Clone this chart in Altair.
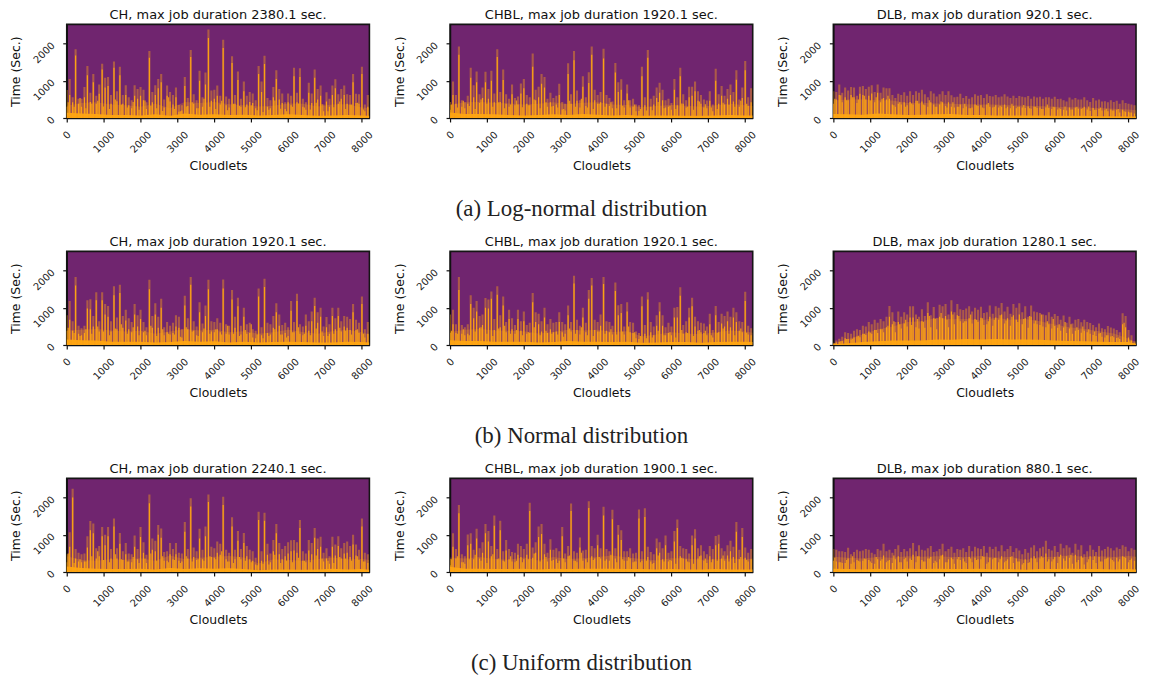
import altair as alt
import pandas as pd

# Spike envelope / bright core per 80 cloudlets, in-between streaks per 160, low band / base per 400 (seconds)
CH_LN_TOP = [750,1050,560,1850,520,520,830,1400,680,1180,
 600,900,1460,1080,1100,620,1520,720,1380,620,
 880,560,480,880,780,830,760,420,1800,700,
 880,1050,1180,500,870,700,620,820,350,340,
 1100,540,1830,640,480,1270,560,1220,2380,740,
 760,870,600,2100,580,520,1660,620,1250,520,
 980,600,700,660,480,1400,980,1670,540,480,
 830,1280,780,660,420,660,600,1350,680,1340,
 520,420,950,660,1300,780,870,360,690,520,
 870,1040,640,780,870,640,620,1180,650,640,
 1380,360,620]
CH_LN_CORE = [300,620,420,1680,380,300,560,1150,430,960,
 380,650,1300,820,860,380,1350,450,1150,380,
 620,340,260,600,520,600,480,240,1620,420,
 620,800,960,280,600,440,360,560,170,200,
 860,320,1640,380,260,1000,300,900,2150,460,
 520,600,360,1880,340,280,1480,380,1020,300,
 720,360,430,400,260,1180,700,1450,300,260,
 560,1050,500,400,240,420,340,1120,420,1100,
 300,220,680,400,1080,500,600,180,440,300,
 620,800,380,520,620,380,360,960,400,380,
 1180,180,300]
CH_LN_FILL = [420,300,540,260,380,460,310,240,500,360,280,430,220,470,330,260,190,560,240,180,
 310,420,260,520,300,240,460,210,380,320,290,340,210,160,220,470,250,180,300,390,
 280,230,410,370,180,290,440,240,360,410,230]
CH_LN_BAND = [330,400,420,360,340,300,380,260,430,400,430,370,340,310,330,390,380,310,360,370,280,270]
CH_LN_BASE = [140,120,110,80,80,70,100,60,120,90,100,80,90,70,80,100,80,60,70,80,70,60]

CHBL_LN_TOP = [430,980,620,1920,480,420,600,1350,880,1250,
 640,820,1240,780,1270,660,1850,700,1300,640,
 520,900,540,580,930,1050,620,560,1730,760,
 840,1180,1100,520,680,540,600,920,430,380,
 1470,640,1800,740,480,1120,560,1230,1920,760,
 620,700,1860,620,540,440,1480,960,1040,480,
 900,480,520,360,340,1380,560,1830,520,600,
 820,950,760,480,520,400,1050,560,1350,640,
 480,840,840,980,720,620,500,470,720,360,
 1320,640,860,600,780,900,700,1280,500,820,
 1530,560,800]
CHBL_LN_CORE = [220,620,380,1700,300,260,380,1080,560,960,
 400,540,960,520,1000,420,1640,430,1020,380,
 300,640,340,360,660,800,380,340,1380,480,
 560,920,820,300,420,320,360,620,230,200,
 1180,380,1550,460,280,840,320,940,1700,480,
 380,420,1600,380,320,260,1220,700,760,280,
 660,280,300,180,190,1120,340,1620,300,360,
 540,680,480,280,300,220,760,340,1120,380,
 280,560,600,720,460,380,280,260,460,180,
 1000,380,600,360,520,620,440,1030,300,540,
 1280,320,420]
CHBL_LN_FILL = [360,280,460,320,240,500,380,300,420,260,360,470,290,340,500,260,420,310,280,240,
 460,300,520,280,240,380,300,420,260,330,480,360,240,200,210,430,260,330,240,390,
 300,220,440,370,280,240,410,350,300,460,380]
CHBL_LN_BAND = [350,420,430,410,390,360,380,420,370,410,420,360,350,290,320,350,330,300,340,380,340,320]
CHBL_LN_BASE = [150,110,110,100,80,70,80,100,80,110,90,70,80,60,70,70,60,60,70,80,70,70]

DLB_LN_TOP = [720,700,900,680,820,740,830,820,600,840,
 860,780,840,880,700,900,680,820,800,800,
 620,540,650,620,690,600,720,620,720,680,
 760,640,560,720,660,580,640,720,620,720,
 610,560,570,650,540,590,520,560,640,600,
 620,540,640,590,580,620,560,580,640,580,
 540,600,540,590,570,560,590,520,580,550,
 570,520,560,560,520,570,510,520,480,440,
 550,500,540,500,500,560,480,430,540,470,
 500,440,450,420,480,430,460,380,480,400,
 380,360,340]
DLB_LN_CORE = [380,500,620,420,560,480,620,560,400,650,
 620,500,600,660,420,680,420,540,500,520,
 360,300,380,360,420,340,430,360,460,380,
 440,340,300,420,360,300,360,420,320,420,
 300,280,300,360,260,310,260,280,360,320,
 340,260,360,300,280,340,280,300,360,300,
 260,320,260,300,280,270,310,250,300,270,
 280,240,280,270,240,290,230,240,220,200,
 280,230,280,250,240,300,230,190,270,220,
 240,200,210,180,230,200,220,150,220,170,
 170,150,120]
DLB_LN_FILL = [520,610,480,560,500,600,470,560,520,600,340,420,300,390,460,360,480,300,440,280,
 420,300,380,260,340,280,400,300,330,260,380,300,350,260,300,240,360,300,260,310,
 230,300,260,310,220,280,250,200,240,180,150]
DLB_LN_BAND = [470,500,500,480,470,400,410,390,380,370,360,360,340,330,320,300,290,280,270,250,230,210]
DLB_LN_BASE = [110,100,90,120,100,80,90,100,110,80,80,70,70,70,70,60,60,60,50,50,40,40]

CH_NO_TOP = [800,1180,640,1830,520,450,520,1200,1230,780,
 1420,640,1420,1100,1050,640,1580,740,1620,780,
 950,720,620,1100,800,950,620,480,1750,780,
 1120,760,1240,480,620,520,600,800,760,420,
 1320,720,1830,640,500,1150,580,1060,1750,640,
 620,720,600,1760,560,520,1480,760,1270,520,
 1000,560,600,420,380,1520,480,1780,600,560,
 780,1120,820,540,600,480,1180,620,1380,560,
 500,820,640,900,1270,880,1000,500,750,560,
 1000,720,1000,640,780,760,700,1100,680,600,
 1300,420,620]
CH_NO_CORE = [380,680,380,1600,300,260,320,980,960,500,
 1200,360,1200,820,760,360,1340,420,1400,460,
 660,420,340,820,500,700,340,260,1500,460,
 820,460,1000,260,340,280,320,500,460,200,
 1060,420,1620,380,260,880,340,780,1500,360,
 340,420,340,1520,300,280,1220,460,1040,280,
 760,300,320,200,180,1300,260,1560,320,280,
 460,880,520,280,320,240,920,340,1180,300,
 260,520,380,640,1050,600,760,240,480,300,
 780,420,780,360,500,460,400,880,400,320,
 1100,200,300]
CH_NO_FILL = [460,320,240,420,300,500,360,260,440,560,300,480,260,380,520,240,420,300,280,220,
 480,360,240,440,300,420,280,520,300,240,400,560,280,180,240,420,280,200,340,480,
 300,260,440,360,240,300,460,380,280,420,300]
CH_NO_BAND = [390,410,430,390,360,380,300,360,430,390,410,340,370,300,340,410,350,300,370,410,340,280]
CH_NO_BASE = [150,130,120,90,90,90,70,80,110,90,100,70,90,70,80,90,80,70,70,90,80,70]

CHBL_NO_TOP = [820,950,560,1830,540,480,560,1340,1000,1180,
 780,820,1260,1220,1440,700,1580,800,1300,620,
 950,720,540,950,640,900,540,600,1400,880,
 840,640,1000,560,700,600,620,880,620,560,
 1060,620,1860,680,520,1000,600,1480,1800,680,
 620,820,1830,640,620,520,1680,1070,1100,500,
 1150,620,600,360,320,1300,540,1420,620,500,
 800,1150,800,480,600,500,1000,1020,1550,540,
 640,1000,1270,760,640,600,580,500,840,400,
 1050,620,840,780,900,760,1000,880,640,620,
 1430,520,450]
CHBL_NO_CORE = [320,560,320,1480,300,260,300,1100,720,900,
 460,540,1000,980,1240,400,1350,480,1060,340,
 700,420,300,700,380,640,300,320,1150,620,
 560,360,740,320,420,340,360,620,340,300,
 800,360,1650,400,280,740,340,1240,1600,400,
 360,520,1640,380,340,280,1450,800,860,280,
 900,340,320,180,160,1040,300,1220,340,260,
 520,900,520,260,320,260,740,740,1320,300,
 340,740,1040,500,380,340,320,260,560,200,
 800,340,580,500,640,480,740,620,380,340,
 1180,280,260]
CHBL_NO_FILL = [380,300,420,260,360,480,300,240,440,520,300,400,260,340,480,260,380,300,280,220,
 440,300,480,260,240,360,300,420,280,360,500,340,240,180,200,380,260,340,200,400,
 320,240,400,380,260,320,440,300,260,440,330]
CHBL_NO_BAND = [350,410,430,390,380,370,310,350,410,390,410,350,370,230,280,340,310,290,340,390,360,330]
CHBL_NO_BASE = [130,110,110,90,90,90,70,80,110,90,90,80,90,60,70,80,80,60,80,90,90,80]

DLB_NO_TOP = [60,120,170,220,340,320,300,380,420,400,
 520,500,620,560,680,600,700,640,760,1050,
 880,620,900,760,880,820,1040,1040,820,760,
 960,780,1150,800,1020,720,1080,1040,1100,820,
 1200,880,1100,960,940,980,1040,900,1000,950,
 1030,860,880,1060,840,1040,1000,1130,900,1030,
 840,1100,1000,1120,880,1040,760,1060,900,880,
 860,820,800,880,760,830,780,680,790,600,
 760,580,680,700,610,680,620,590,540,480,
 580,450,420,510,470,440,400,340,850,780,
 400,260,100]
DLB_NO_CORE = [40,70,90,110,180,160,150,200,230,210,
 300,270,360,300,400,320,420,340,480,760,
 560,340,620,440,580,500,740,740,480,440,
 640,460,860,480,720,420,760,720,780,480,
 900,560,800,640,600,640,720,580,700,620,
 730,540,560,760,520,740,680,820,580,720,
 520,800,680,820,560,720,460,760,580,560,
 540,500,480,560,440,510,460,380,470,320,
 440,300,380,400,330,380,340,300,270,240,
 310,220,200,260,230,210,190,160,560,480,
 200,120,50]
DLB_NO_FILL = [50,100,160,170,250,300,330,400,420,520,640,560,680,540,700,620,780,700,860,680,
 820,780,640,820,680,720,640,680,800,660,760,620,700,780,660,820,640,700,560,620,
 560,480,500,420,360,320,260,240,200,600,120]
DLB_NO_BAND = [40,160,280,420,490,620,640,730,690,700,660,730,680,700,640,550,480,430,370,310,170,70]
DLB_NO_BASE = [20,50,80,100,120,120,120,150,140,160,150,160,150,150,140,120,110,100,90,80,80,30]

CH_UN_TOP = [480,1070,2240,620,520,480,500,960,1370,1300,
 640,700,1210,1000,1210,620,1440,640,1050,560,
 780,500,480,980,620,1210,800,460,2080,900,
 840,1260,1170,540,560,780,620,780,520,500,
 1340,620,1980,660,560,1160,600,1220,2080,680,
 640,820,760,2020,600,520,1470,600,1100,620,
 1050,700,600,560,380,1620,560,1590,760,500,
 860,1290,780,620,700,800,850,860,800,1400,
 560,500,860,780,1180,900,950,520,640,420,
 950,740,960,640,780,820,700,1000,740,600,
 1440,520,480]
CH_UN_CORE = [260,680,2000,360,280,260,280,660,1120,1040,
 360,420,960,720,960,360,1220,360,760,320,
 480,280,260,680,340,940,520,240,1850,600,
 560,1000,920,300,300,480,340,480,300,280,
 1080,360,1760,400,320,900,340,960,1880,400,
 380,520,460,1800,340,280,1220,340,840,340,
 780,420,340,300,200,1400,300,1380,460,260,
 560,1040,480,340,420,500,560,580,520,1180,
 300,260,580,480,920,620,680,280,360,220,
 680,440,700,360,500,520,400,740,440,320,
 1220,280,240]
CH_UN_FILL = [500,240,340,280,420,560,320,260,480,340,280,400,240,360,500,300,420,260,320,240,
 420,280,340,300,420,340,560,280,240,400,300,260,180,220,200,460,240,300,260,380,
 300,260,440,360,300,240,400,360,300,420,280]
CH_UN_BAND = [420,320,300,340,330,370,300,440,340,380,410,430,390,230,340,320,300,340,390,340,350,320]
CH_UN_BASE = [150,110,90,80,80,90,70,110,80,100,90,100,80,50,70,70,60,70,90,70,80,60]

CHBL_UN_TOP = [350,1040,620,1800,480,420,1010,1040,600,1160,
 640,800,1290,1100,700,1520,620,1380,560,860,
 620,540,520,760,700,620,760,1860,660,800,
 1220,1290,760,520,880,600,640,560,1210,500,
 700,1840,560,520,930,580,600,1900,700,640,
 1000,640,1750,620,560,1670,640,1260,1120,560,
 560,640,500,520,1680,560,1710,680,540,480,
 900,800,640,980,520,560,1100,1410,700,640,
 620,500,980,1150,640,720,560,480,700,620,
 970,1000,640,560,720,840,680,1340,600,1180,
 660,520,620]
CHBL_UN_CORE = [180,680,360,1580,260,220,720,760,340,900,
 360,520,1040,820,420,1240,340,1120,300,580,
 340,280,260,460,400,340,460,1640,380,520,
 940,1020,480,280,600,320,340,300,960,260,
 420,1640,300,260,660,300,340,1720,420,360,
 720,360,1520,340,300,1420,360,1000,860,300,
 300,360,260,280,1440,300,1480,400,280,240,
 640,520,340,720,280,300,820,1180,420,360,
 340,260,720,900,360,440,300,240,420,340,
 720,760,360,300,440,560,400,1080,340,940,
 380,280,340]
CHBL_UN_FILL = [340,420,260,340,460,300,240,480,360,280,420,300,260,340,500,280,400,300,240,360,
 440,300,520,260,320,400,300,460,260,340,400,280,260,300,220,440,280,320,220,380,
 280,220,420,360,260,300,440,280,240,400,320]
CHBL_UN_BAND = [390,360,400,350,330,390,310,400,350,370,400,440,390,350,310,370,360,330,340,360,340,360]
CHBL_UN_BASE = [140,90,90,80,80,90,70,90,80,90,90,90,80,80,70,80,70,70,80,70,70,70]

DLB_UN_TOP = [620,600,560,560,540,650,480,540,600,560,
 580,620,600,520,480,620,580,760,560,600,
 520,620,720,540,620,560,640,780,560,720,
 600,580,640,700,540,560,620,760,560,620,
 680,520,620,600,640,540,700,560,680,640,
 620,700,520,680,620,680,560,720,560,620,
 700,540,640,580,480,620,520,660,720,560,
 640,680,840,620,580,700,540,760,640,720,
 660,520,760,600,720,480,560,720,600,540,
 700,580,620,680,640,580,660,620,720,680,
 560,640,600]
DLB_UN_CORE = [300,280,260,240,240,360,220,260,320,280,
 300,340,320,240,220,340,300,440,260,320,
 240,340,420,260,340,280,360,460,260,420,
 320,280,360,400,240,260,340,460,260,340,
 380,220,340,320,360,240,400,260,380,340,
 340,400,220,380,340,380,260,420,260,340,
 400,240,360,280,200,340,240,380,420,260,
 360,380,500,340,280,400,240,460,360,420,
 380,220,460,320,420,200,260,420,320,240,
 400,280,340,380,360,280,380,340,420,380,
 260,360,300]
DLB_UN_FILL = [380,260,320,420,300,360,280,400,340,300,440,260,380,320,420,280,360,300,440,260,
 340,400,280,360,320,420,260,380,340,300,420,280,240,260,360,420,280,340,400,300,
 460,260,380,340,420,280,360,320,280,400,320]
DLB_UN_BAND = [410,380,360,400,380,420,410,420,400,400,430,380,410,320,400,410,450,400,420,400,430,410]
DLB_UN_BASE = [90,80,70,90,70,90,80,90,80,80,90,70,80,60,80,80,90,80,80,70,80,70]

STEP = 80
BAND_XS = [i * 400 for i in range(21)] + [8200]
XMAX = 8203
YMAX = 2515
BG = "#70256f"
ORANGE = "#ffa512"


def panel(title, top, core, fill, band, base):
    spikes = pd.DataFrame({"x": [i * STEP for i in range(len(top))], "top": top, "core": core})
    streaks = pd.DataFrame({"x": [40 + i * 2 * STEP for i in range(len(fill))], "fill": fill})
    low = pd.DataFrame({"x": BAND_XS, "band": band, "base": base})
    xs = alt.Scale(domain=[0, XMAX], nice=False, zero=False, padding=0)
    ys = alt.Scale(domain=[0, YMAX], nice=False)
    xax = alt.Axis(values=list(range(0, 8001, 1000)), title="Cloudlets", labelAngle=-45,
                   labelAlign="center", labelBaseline="middle",
                   labelPadding={"condition": {"test": "datum.value == 0", "value": 13}, "value": 20},
                   grid=False, format="d", minExtent=36, maxExtent=36, titlePadding=6, labelFlush=False)
    yax = alt.Axis(values=[0, 1000, 2000], title="Time (Sec.)", labelAngle=-45,
                   labelAlign="right", labelBaseline="middle", labelPadding=10, grid=False,
                   format="d", minExtent=44, maxExtent=44, titlePadding=0)
    x = alt.X("x:Q", scale=xs, axis=xax)
    a = (alt.Chart(spikes).mark_bar(size=2.1, color=ORANGE, opacity=0.42, clip=True)
         .encode(x=x, y=alt.Y("top:Q", scale=ys, axis=yax)))
    b = (alt.Chart(low).mark_area(color=ORANGE, opacity=0.25, clip=True)
         .encode(x=x, y=alt.Y("band:Q", scale=ys, axis=yax)))
    e = (alt.Chart(streaks).mark_bar(size=1.3, color=ORANGE, opacity=0.8, clip=True)
         .encode(x=x, y=alt.Y("fill:Q", scale=ys, axis=yax)))
    c = (alt.Chart(spikes).mark_bar(size=1.2, color=ORANGE, opacity=0.95, clip=True)
         .encode(x=x, y=alt.Y("core:Q", scale=ys, axis=yax)))
    d = (alt.Chart(low).mark_area(color=ORANGE, opacity=0.95, clip=True)
         .encode(x=x, y=alt.Y("base:Q", scale=ys, axis=yax)))
    return (a + b + e + c + d).properties(
        width=304, height=94,
        title=alt.TitleParams(title, fontSize=13, font="DejaVu Sans", fontWeight="normal",
                              offset=2.5, color="#111"),
    )


def row(caption, panels):
    return alt.hconcat(*panels, spacing=17).properties(
        title=alt.TitleParams(caption, orient="bottom", anchor="middle", font="Liberation Serif",
                              fontSize=23, fontWeight="normal", offset=25, dx=6, color="#222")
    )


r1 = row("(a) Log-normal distribution", [
    panel("CH, max job duration 2380.1 sec.", CH_LN_TOP, CH_LN_CORE, CH_LN_FILL, CH_LN_BAND, CH_LN_BASE),
    panel("CHBL, max job duration 1920.1 sec.", CHBL_LN_TOP, CHBL_LN_CORE, CHBL_LN_FILL, CHBL_LN_BAND, CHBL_LN_BASE),
    panel("DLB, max job duration 920.1 sec.", DLB_LN_TOP, DLB_LN_CORE, DLB_LN_FILL, DLB_LN_BAND, DLB_LN_BASE),
])
r2 = row("(b) Normal distribution", [
    panel("CH, max job duration 1920.1 sec.", CH_NO_TOP, CH_NO_CORE, CH_NO_FILL, CH_NO_BAND, CH_NO_BASE),
    panel("CHBL, max job duration 1920.1 sec.", CHBL_NO_TOP, CHBL_NO_CORE, CHBL_NO_FILL, CHBL_NO_BAND, CHBL_NO_BASE),
    panel("DLB, max job duration 1280.1 sec.", DLB_NO_TOP, DLB_NO_CORE, DLB_NO_FILL, DLB_NO_BAND, DLB_NO_BASE),
])
r3 = row("(c) Uniform distribution", [
    panel("CH, max job duration 2240.1 sec.", CH_UN_TOP, CH_UN_CORE, CH_UN_FILL, CH_UN_BAND, CH_UN_BASE),
    panel("CHBL, max job duration 1900.1 sec.", CHBL_UN_TOP, CHBL_UN_CORE, CHBL_UN_FILL, CHBL_UN_BAND, CHBL_UN_BASE),
    panel("DLB, max job duration 880.1 sec.", DLB_UN_TOP, DLB_UN_CORE, DLB_UN_FILL, DLB_UN_BAND, DLB_UN_BASE),
])

chart = (
    alt.vconcat(r1, r2, r3, spacing=13)
    .properties(padding={"left": 1, "top": -2, "right": -1, "bottom": 0})
    .configure_view(fill=BG, stroke="#151515", strokeWidth=1.6)
    .configure_axis(labelFont="DejaVu Sans", titleFont="DejaVu Sans", labelFontSize=10,
                    titleFontSize=12.5, titleFontWeight="normal", labelColor="#222", titleColor="#111",
                    tickColor="#111", domainColor="#111", tickSize=4, tickWidth=1.2, domainWidth=1.4)
)

chart.save("out.html", embed_options={"renderer": "svg", "actions": False})
